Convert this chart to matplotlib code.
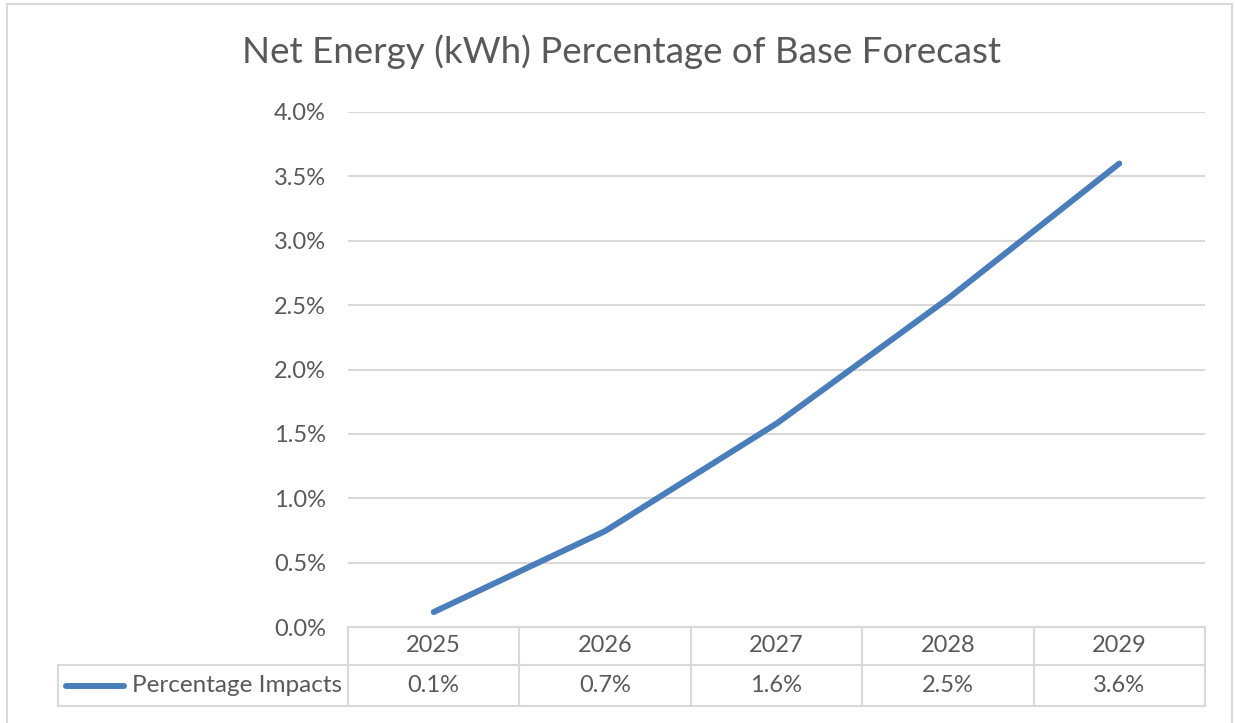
"""
Net energy percentage of base forecast: line chart with an Excel-style data table.
"""
import matplotlib.pyplot as plt
from matplotlib.lines import Line2D
from matplotlib.patches import Rectangle

# data
years = ["2025", "2026", "2027", "2028", "2029"]
impacts = [0.116, 0.745, 1.58, 2.55, 3.60]        # percent
table_labels = ["0.1%", "0.7%", "1.6%", "2.5%", "3.6%"]
yticks = [0.0, 0.5, 1.0, 1.5, 2.0, 2.5, 3.0, 3.5, 4.0]
series_name = "Percentage Impacts"
title = "Net Energy (kWh) Percentage of Base Forecast"

W, H = 1235, 723
TEXT = "#595959"
GRID = "#d9d9d9"
BLUE = "#4a7ebb"

plt.rcParams["font.family"] = ["Lato", "DejaVu Sans"]

fig = plt.figure(figsize=(W / 100, H / 100), dpi=100)


def fx(px):
    return px / W


def fy(py):
    return 1 - py / H


# outer chart frame (bottom edge runs off the picture)
fig.add_artist(Rectangle((fx(7), fy(740)), fx(1232) - fx(7), fy(4) - fy(740),
                         transform=fig.transFigure, fill=False,
                         edgecolor=GRID, linewidth=1.5))

fig.text(fx(622), fy(52), title, ha="center", va="center",
         fontsize=26.5, color=TEXT)

# plot area
left, right, top, bottom = 348, 1205, 112, 627
ax = fig.add_axes([fx(left), fy(bottom), fx(right) - fx(left), fy(top) - fy(bottom)])
x = list(range(len(years)))
ax.plot(x, impacts, color=BLUE, linewidth=4.3, solid_capstyle="round",
        solid_joinstyle="round", zorder=3)
ax.set_xlim(-0.5, len(years) - 0.5)
ax.set_ylim(yticks[0], yticks[-1])
ax.set_yticks(yticks)
ax.set_yticklabels([f"{v:.1f}%" for v in yticks])
ax.grid(axis="y", color=GRID, linewidth=1.5)
ax.set_axisbelow(True)
ax.tick_params(axis="y", length=0, pad=16, labelsize=17, labelcolor=TEXT)
ax.tick_params(axis="x", length=0, labelbottom=False)
for s in ax.spines.values():
    s.set_visible(False)

# data table below the plot
row1, row2, row3 = 627, 665, 706
col_w = (right - left) / len(years)
lw = 1.5
seg = []
seg.append(((left, row1), (right, row1)))
seg.append(((58, row2), (right, row2)))
seg.append(((58, row3), (right, row3)))
seg.append(((58, row2), (58, row3)))
for i in range(len(years) + 1):
    xx = left + i * col_w
    seg.append(((xx, row1), (xx, row3)))
for (x0, y0), (x1, y1) in seg:
    fig.add_artist(Line2D([fx(x0), fx(x1)], [fy(y0), fy(y1)],
                          transform=fig.transFigure, color=GRID, linewidth=lw))

for i, (yr, lab) in enumerate(zip(years, table_labels)):
    cx = left + (i + 0.5) * col_w
    fig.text(fx(cx), fy((row1 + row2) / 2), yr, ha="center", va="center",
             fontsize=17, color=TEXT)
    fig.text(fx(cx), fy((row2 + row3) / 2), lab, ha="center", va="center",
             fontsize=17, color=TEXT)

# legend key in the table
ky = (row2 + row3) / 2
fig.add_artist(Line2D([fx(66), fx(124)], [fy(ky), fy(ky)], transform=fig.transFigure,
                      color=BLUE, linewidth=4.3, solid_capstyle="round"))
fig.text(fx(342), fy(ky), series_name, ha="right", va="center",
         fontsize=17.5, color=TEXT)

fig.savefig("out.png", dpi=100)
